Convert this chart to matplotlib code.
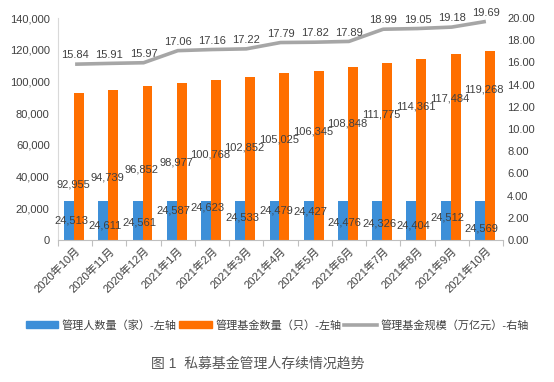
import matplotlib
matplotlib.use("Agg")
import matplotlib.pyplot as plt
import numpy as np
from matplotlib.patches import Patch
from matplotlib.lines import Line2D
from matplotlib.ticker import FuncFormatter

plt.rcParams['font.family'] = ['Liberation Sans', 'Noto Sans CJK SC', 'DejaVu Sans']

categories = ["2020年10月", "2020年11月", "2020年12月", "2021年1月", "2021年2月", "2021年3月",
              "2021年4月", "2021年5月", "2021年6月", "2021年7月", "2021年8月", "2021年9月", "2021年10月"]
managers = [24513, 24611, 24561, 24587, 24623, 24533, 24479, 24427, 24476, 24326, 24404, 24512, 24569]
funds = [92955, 94739, 96852, 98977, 100768, 102852, 105025, 106345, 108848, 111775, 114361, 117484, 119268]
scale = [15.84, 15.91, 15.97, 17.06, 17.16, 17.22, 17.79, 17.82, 17.89, 18.99, 19.05, 19.18, 19.69]

series_names = ["管理人数量（家）-左轴", "管理基金数量（只）-左轴", "管理基金规模（万亿元）-右轴"]
caption = "图 1  私募基金管理人存续情况趋势"

blue = "#3D8FD8"
orange = "#FF6F00"
gray = "#A6A6A6"
txt = "#404040"

W, H = 554, 382
fig = plt.figure(figsize=(W / 100, H / 100), dpi=100)
ax = fig.add_axes([58 / W, (H - 240) / H, 445 / W, 222 / H])
ax2 = ax.twinx()

x = np.arange(len(categories))
bw = 0.29
ax.bar(x - bw / 2 - 0.03, managers, width=bw, color=blue, zorder=2)
ax.bar(x + bw / 2 - 0.03, funds, width=bw, color=orange, zorder=2)
ax2.plot(x, scale, color=gray, lw=2.6, zorder=3, solid_capstyle='butt')

ax.set_xlim(-0.5, len(categories) - 0.5)
ax.set_ylim(0, 140000)
ax.set_yticks(np.arange(0, 140001, 20000))
ax.yaxis.set_major_formatter(FuncFormatter(lambda v, p: f"{int(v):,}"))
ax2.set_ylim(0, 20)
ax2.set_yticks(np.arange(0, 20.01, 2))
ax2.yaxis.set_major_formatter(FuncFormatter(lambda v, p: f"{v:.2f}"))

ax.set_xticks(np.arange(-0.5, len(categories), 1), minor=True)
ax.set_xticks(x)
ax.set_xticklabels(categories, rotation=45, ha='right', rotation_mode='anchor',
                   fontsize=8, color=txt)
ax.tick_params(axis='x', which='major', length=0, pad=4)
ax.tick_params(axis='x', which='minor', length=4, color="#BFBFBF", width=0.8)
ax.tick_params(axis='y', length=0, labelsize=8, labelcolor=txt, pad=6)
ax2.tick_params(axis='y', length=0, labelsize=8, labelcolor=txt, pad=3)

for a in (ax, ax2):
    for s in ("top", "right"):
        a.spines[s].set_visible(False)
ax2.spines["left"].set_visible(False)
ax2.spines["bottom"].set_visible(False)
ax.spines["left"].set_color("#D9D9D9")
ax.spines["bottom"].set_color("#BFBFBF")
ax.spines["left"].set_linewidth(0.8)

# data labels
blue_lab_y = [12500, 9000, 11000, 18500, 20500, 14500, 18500, 18000, 11000, 10500, 9000, 14500, 7000]
for i in range(len(x)):
    ax.text(x[i] - 0.12, blue_lab_y[i], f"{managers[i]:,}", ha='center', va='center',
            fontsize=8, color=txt, zorder=4)
    ax.text(x[i] - 0.05, 34700 + i * 4750 + (i > 6) * 500 * (i - 6), f"{funds[i]:,}", ha='center',
            va='center', fontsize=8, color=txt, zorder=4)
    ax2.text(x[i], scale[i] + 0.35, f"{scale[i]:.2f}", ha='center', va='bottom',
             fontsize=8, color=txt, zorder=4)

handles = [Patch(color=blue), Patch(color=orange), Line2D([0], [0], color=gray, lw=2.6)]
fig.legend(handles, series_names, loc='center', bbox_to_anchor=(277 / W, 1 - 325 / H),
           ncol=3, frameon=False, fontsize=8, handlelength=2.9, handleheight=0.6,
           handletextpad=0.3, columnspacing=0.3, labelcolor=txt)

fig.text(258 / W, 1 - 364 / H, caption, ha='center', va='center', fontsize=10, color="#555555")

fig.savefig("out.png", dpi=100, facecolor="white")
